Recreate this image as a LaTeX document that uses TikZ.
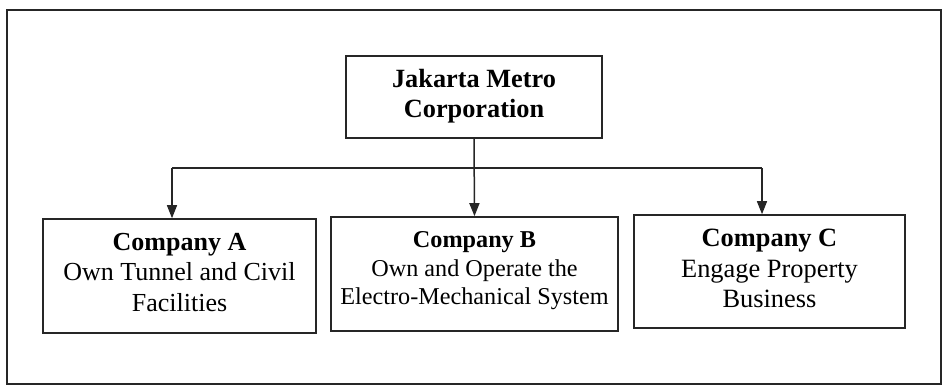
\documentclass[tikz,border=0pt]{standalone}
\usepackage{fontspec}
\setmainfont{Liberation Serif}
\usetikzlibrary{arrows.meta}
\begin{document}
\begin{tikzpicture}[x=1pt,y=-1pt,
  orgbox/.style={draw=black!85, line width=1.6pt, inner sep=0pt},
  orgtext/.style={align=center, inner sep=0pt},
  conn/.style={draw=black!85, line width=1.5pt},
  arr/.style={conn, -{Triangle[length=13pt,width=10pt]}}]
\useasboundingbox (0,0) rectangle (948,388);
\node[draw=black!85, line width=2pt, minimum width=934pt, minimum height=374pt, inner sep=0pt] (frame) at (474,197) {};
\node[orgbox, minimum width=256pt, minimum height=82pt] (top) at (474,97) {};
\node[orgtext, font=\fontsize{26.3}{30}\selectfont] (toptext) at ([yshift=1pt]top.center)
  {\textbf{Jakarta Metro}\\\textbf{Corporation}};
\node[orgbox, minimum width=273pt, minimum height=114pt] (A) at (179.5,276) {};
\node[orgtext, font=\fontsize{26}{30.5}\selectfont] (Atext) at ([yshift=3.5pt]A.center)
  {\textbf{Company A}\\Own Tunnel and Civil\\Facilities};
\node[orgbox, minimum width=287pt, minimum height=114pt] (B) at (474.5,274) {};
\node[orgtext, font=\fontsize{24.2}{28.5}\selectfont] (Btext) at ([yshift=3pt]B.center)
  {\textbf{Company B}\\Own and Operate the\\Electro-Mechanical System};
\node[orgbox, minimum width=271pt, minimum height=113pt] (C) at (769.5,271.5) {};
\node[orgtext, font=\fontsize{26.4}{30.5}\selectfont] (Ctext) at ([yshift=3pt]C.center)
  {\textbf{Company C}\\Engage Property\\Business};
\coordinate (ja) at (172,168);
\coordinate (jc) at (762,168);
\draw[conn] (ja) -- (jc);
\draw[arr] (top.south) -- (B.north);
\draw[arr] (ja) -- (ja |- A.north);
\draw[arr] (jc) -- (jc |- C.north);
\end{tikzpicture}
\end{document}
